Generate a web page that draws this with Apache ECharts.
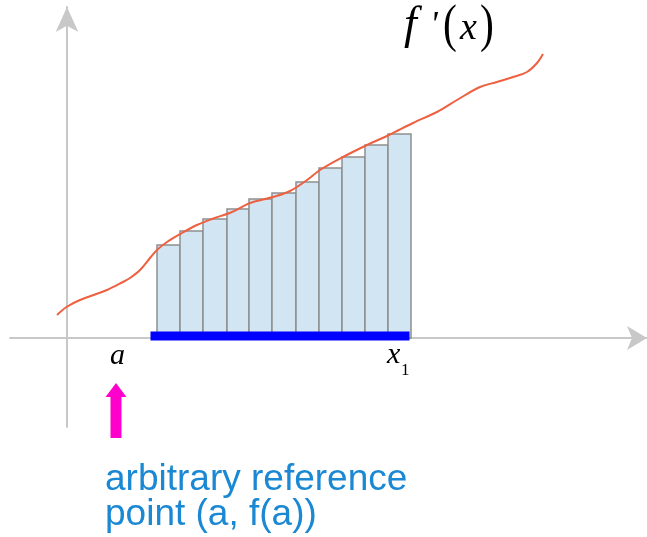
<!DOCTYPE html>
<html>
<head>
<meta charset="utf-8">
<script src="https://cdn.jsdelivr.net/npm/echarts@6/dist/echarts.min.js"></script>
<style>
  html, body { margin: 0; padding: 0; background: #fff; }
  #chart { width: 647px; height: 537px; }
</style>
</head>
<body>
<div id="chart"></div>
<script>
// 数据 (1 unit = 10 px in both directions, origin at the axis crossing)
// 矩形条的左右边界
const barEdges = [9.0, 11.3, 13.6, 16.0, 18.2, 20.5, 22.9, 25.2, 27.5, 29.8, 32.1, 34.4];
// 每个矩形条的高度
const barHeights = [9.3, 10.7, 11.9, 12.9, 13.9, 14.5, 15.6, 17.0, 18.1, 19.3, 20.4];

// f'(x) 曲线上的点
const curveX = [-1.0, -0.05, 1.3, 4.0, 5.6, 6.3, 7.3, 8.3, 9.0, 10.0, 11.5, 13.0, 14.5,
  16.5, 18.3, 20.6, 22.3, 24.0, 25.3, 27.6, 30.0, 32.2, 34.6, 37.0, 39.0, 41.3,
  43.0, 44.6, 46.0, 47.0, 47.6];
const curveY = [2.3, 3.1, 3.8, 4.8, 5.6, 6.0, 6.8, 8.0, 8.8, 9.6, 10.5, 11.3, 11.9,
  12.6, 13.5, 14.1, 14.7, 15.8, 16.8, 18.1, 19.3, 20.3, 21.5, 22.6, 23.8, 25.1,
  25.6, 26.1, 26.6, 27.5, 28.4];

// 积分区间 [a 附近, x1]
const intervalX = [8.35, 34.25];
const intervalY = 0.2;

// 参考点 a 的位置与箭头范围
const pointA = 4.9;
const arrowSpan = [-4.5, -10.0];

const xRange = [-5.7, 58.0];
const yRange = [-8.9, 33.1];

const axisGray = '#c8c8c8';

let chart;

function initChart() {
  chart = echarts.init(document.getElementById('chart'));

  const barData = barHeights.map((h, i) => [barEdges[i], barEdges[i + 1], h]);
  const curveData = curveX.map((x, i) => [x, curveY[i]]);

  chart.setOption({
    animation: false,
    grid: { left: 10, right: 0, top: 7, bottom: 110 },
    xAxis: {
      type: 'value',
      min: xRange[0],
      max: xRange[1],
      axisLine: {
        onZero: true,
        symbol: ['none', 'arrow'],
        symbolSize: [18, 20],
        lineStyle: { color: axisGray, width: 2 }
      },
      axisTick: { show: false },
      axisLabel: { show: false },
      splitLine: { show: false }
    },
    yAxis: {
      type: 'value',
      min: yRange[0],
      max: yRange[1],
      axisLine: {
        show: true,
        onZero: true,
        symbol: ['none', 'arrow'],
        symbolSize: [17, 25],
        lineStyle: { color: axisGray, width: 2 }
      },
      axisTick: { show: false },
      axisLabel: { show: false },
      splitLine: { show: false }
    },
    series: [
      {
        // 矩形条
        type: 'custom',
        z: 2,
        data: barData,
        renderItem: function (params, api) {
          const p0 = api.coord([api.value(0), 0]);
          const p1 = api.coord([api.value(1), api.value(2)]);
          return {
            type: 'rect',
            shape: { x: p0[0], y: p1[1], width: p1[0] - p0[0], height: p0[1] - p1[1] },
            style: { fill: '#d1e5f3', stroke: '#8e8e8e', lineWidth: 1.5 }
          };
        }
      },
      {
        // 蓝色区间
        type: 'line',
        z: 3,
        symbol: 'none',
        data: intervalX.map(x => [x, intervalY]),
        lineStyle: { color: '#0000ff', width: 9, cap: 'butt' }
      },
      {
        // f'(x)
        type: 'line',
        z: 4,
        symbol: 'none',
        smooth: 0.35,
        data: curveData,
        lineStyle: { color: '#ee6040', width: 2 }
      },
      {
        // 品红箭头
        type: 'custom',
        z: 5,
        clip: false,
        data: [[pointA, arrowSpan[0], arrowSpan[1]]],
        renderItem: function (params, api) {
          const tip = api.coord([api.value(0), api.value(1)]);
          const end = api.coord([api.value(0), api.value(2)]);
          const cx = tip[0], headLen = 14, headHalf = 10.5, shaftHalf = 5.5;
          return {
            type: 'polygon',
            shape: {
              points: [
                [cx, tip[1]],
                [cx + headHalf, tip[1] + headLen],
                [cx + shaftHalf, tip[1] + headLen],
                [cx + shaftHalf, end[1]],
                [cx - shaftHalf, end[1]],
                [cx - shaftHalf, tip[1] + headLen],
                [cx - headHalf, tip[1] + headLen]
              ]
            },
            style: { fill: '#ff00cc' }
          };
        }
      }
    ],
    graphic: [
      { type: 'text', left: 404, top: 3, style: { text: 'f', font: 'italic 46px "Liberation Serif"', fill: '#000' } },
      { type: 'text', left: 430, top: 9, style: { text: "'", font: 'italic 36px "Liberation Serif"', fill: '#000' } },
      { type: 'text', left: 443, top: 1, scaleX: 0.8, style: { text: '(', font: '52px "Liberation Serif"', fill: '#000' } },
      { type: 'text', left: 460, top: 10, style: { text: 'x', font: 'italic 38px "Liberation Serif"', fill: '#000' } },
      { type: 'text', left: 480, top: 1, scaleX: 0.8, style: { text: ')', font: '52px "Liberation Serif"', fill: '#000' } },
      { type: 'text', left: 110, top: 341, style: { text: 'a', font: 'italic 30px "Liberation Serif"', fill: '#000' } },
      { type: 'text', left: 387, top: 340, style: { text: 'x', font: 'italic 30px "Liberation Serif"', fill: '#000' } },
      { type: 'text', left: 401, top: 362, style: { text: '1', font: '17px "Liberation Serif"', fill: '#000' } },
      {
        type: 'text', left: 105, top: 461,
        style: {
          text: 'arbitrary reference\npoint (a, f(a))',
          font: '37px "Liberation Sans"',
          lineHeight: 35,
          fill: '#1a88d2'
        }
      }
    ]
  });
}

document.addEventListener('DOMContentLoaded', () => {
  initChart();
});
</script>
</body>
</html>
